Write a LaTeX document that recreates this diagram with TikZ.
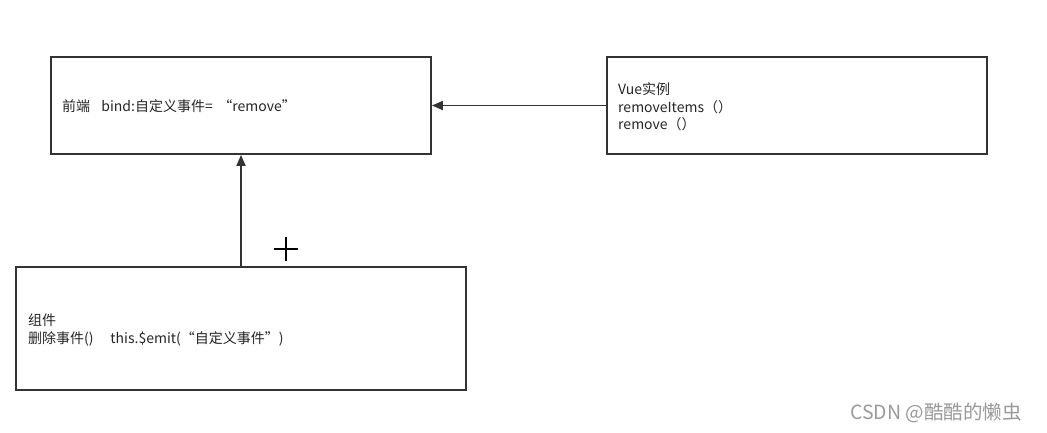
\documentclass[tikz,border=0pt]{standalone}
\usepackage{fontspec}
\setmainfont{Noto Sans CJK SC}
\usetikzlibrary{arrows.meta}
\definecolor{edge}{HTML}{333333}
\definecolor{wm}{HTML}{9A9A9A}
\tikzset{
  box/.style={draw=edge, line width=1.8pt, inner sep=0pt},
  lbl/.style={anchor=west, align=left, inner sep=0pt, font=\fontsize{14}{17.5}\selectfont, text=black!85},
  conn/.style={draw=edge, line width=1.8pt, -{Triangle[length=11pt,width=9pt]}},
}
\begin{document}
\begin{tikzpicture}[x=1pt,y=-1pt]
\useasboundingbox (0,0) rectangle (1047,433);
\fill[white] (0,0) rectangle (1047,433);
% boxes
\draw[box] (51,57) rectangle (431,154);
\node[box, draw=none, minimum width=380pt, minimum height=97pt] (front) at (241,105.5) {};
\draw[box] (607,57) rectangle (987,154);
\node[box, draw=none, minimum width=380pt, minimum height=97pt] (vue) at (797,105.5) {};
\draw[box] (16,267) rectangle (466,390);
\node[box, draw=none, minimum width=450pt, minimum height=123pt] (comp) at (241,328.5) {};
% labels
\node[lbl] (t1) at (62,106) {前端\hspace{0.8em}bind:自定义事件=\hspace{0.4em}“remove”};
\node[lbl] (t2) at (618,107) {Vue实例\\removeItems（）\\remove（）};
\node[lbl] (t3) at (28,330) {组件\\删除事件()\hspace{1.2em}this.\$emit(“自定义事件”)};
% connectors
\draw[conn] (vue.west) -- (front.east);
\draw[conn] (comp.north) -- (front.south);
% plus cursor
\draw[black, line width=1.2pt] (274,249) -- (298,249) (286,237) -- (286,261);
% watermark
\node[anchor=west, inner sep=0pt, text=wm, font=\fontsize{19.5}{22}\selectfont] (wmk) at (850,413) {CSDN @酷酷的懒虫};
\end{tikzpicture}
\end{document}
